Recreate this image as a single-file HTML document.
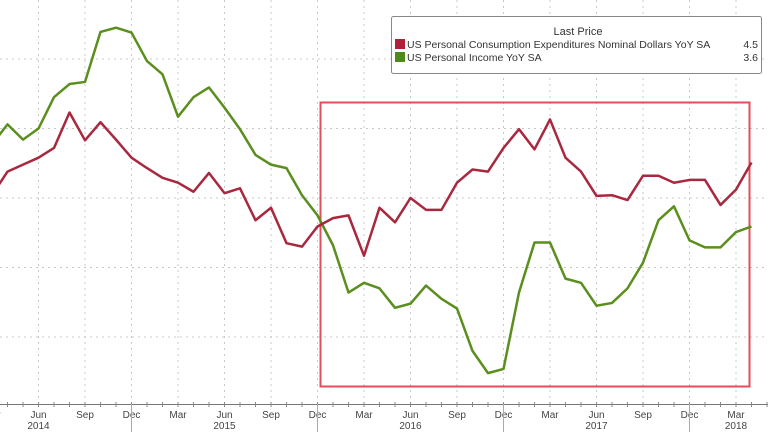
<!DOCTYPE html>
<html><head><meta charset="utf-8"><style>
html,body{margin:0;padding:0;background:#fff;}
svg{display:block;font-family:"Liberation Sans",sans-serif;}
</style></head><body>
<svg id="chart" width="768" height="432" viewBox="0 0 768 432" xmlns="http://www.w3.org/2000/svg">
<g id="grid"></g>
<g id="axis"></g>
<rect x="320.5" y="102.5" width="429" height="284" fill="none" stroke="#e0505a" stroke-width="2"/>
<g id="series"></g>
<g>
<rect x="391.5" y="16.5" width="370" height="57" fill="#fff" stroke="#888" stroke-width="1" rx="2"/>
<text x="578" y="35" font-size="11" fill="#333" text-anchor="middle">Last Price</text>
<rect x="395" y="39" width="10" height="10" fill="#b0203a"/>
<text x="407" y="48" font-size="10.5" fill="#333">US Personal Consumption Expenditures Nominal Dollars YoY SA</text>
<text x="758" y="48" font-size="10.5" fill="#333" text-anchor="end">4.5</text>
<rect x="395" y="52" width="10" height="10" fill="#4c8a1a"/>
<text x="407" y="61" font-size="10.5" fill="#333">US Personal Income YoY SA</text>
<text x="758" y="61" font-size="10.5" fill="#333" text-anchor="end">3.6</text>
</g>
</svg>
<script>
const pce=[4.04,4.38,4.48,4.58,4.72,5.23,4.83,5.09,4.84,4.58,4.43,4.29,4.22,4.09,4.36,4.07,4.14,3.68,3.86,3.35,3.30,3.59,3.71,3.75,3.17,3.86,3.65,4.0,3.83,3.83,4.22,4.41,4.38,4.72,4.99,4.70,5.13,4.58,4.38,4.03,4.04,3.97,4.32,4.32,4.22,4.26,4.26,3.90,4.12,4.51];
const income=[4.77,5.06,4.84,5.0,5.45,5.64,5.67,6.39,6.45,6.38,5.97,5.78,5.17,5.45,5.59,5.30,4.99,4.62,4.48,4.43,4.04,3.75,3.32,2.64,2.78,2.70,2.42,2.48,2.74,2.55,2.41,1.80,1.48,1.54,2.64,3.36,3.36,2.84,2.78,2.45,2.49,2.70,3.07,3.68,3.88,3.39,3.29,3.29,3.51,3.59];
const monthLabels=["Mar","Apr","May","Jun","Jul","Aug","Sep","Oct","Nov","Dec","Jan","Feb"];
const yTicks=[2,3,4,5,6];
const years=["2014","2015","2016","2017","2018"];
const NS="http://www.w3.org/2000/svg";
function x(i){return -8+i*15.5;}
function y(v){return 198-(v-4)*69.5;}
function mk(tag,attrs,parent,txt){const e=document.createElementNS(NS,tag);for(const k in attrs)e.setAttribute(k,attrs[k]);if(txt)e.textContent=txt;parent.appendChild(e);return e;}
const grid=document.getElementById('grid'),axis=document.getElementById('axis'),series=document.getElementById('series');
yTicks.forEach(t=>{const l=mk('line',{x1:0,x2:768,y1:y(t),y2:y(t),stroke:'#c8c8c8','stroke-dasharray':'2,4'},grid);

});
mk('line',{x1:0,x2:768,y1:404.5,y2:404.5,stroke:'#777'},axis);
for(let i=0;i<52;i++){const xi=x(i);const m=monthLabels[i%12];
const tk=mk('line',{x1:xi,x2:xi,y1:402,y2:407,stroke:'#888'},axis);


if(i%3===0){const g=mk('line',{x1:xi,x2:xi,y1:0,y2:404,stroke:'#c8c8c8','stroke-dasharray':'2,4'},grid);


const t=mk('text',{x:xi,y:418,'font-size':10,fill:'#444','text-anchor':'middle'},axis,m);

}
if(m==="Dec"){const s=mk('line',{x1:xi,x2:xi,y1:404,y2:432,stroke:'#aaa'},axis);

}
if(m==="Jun"){const yr=years[Math.floor(i/12)];const t=mk('text',{x:xi,y:429,'font-size':10,fill:'#444','text-anchor':'middle'},axis,yr);

}}
const t18=mk('text',{x:x(48),y:429,'font-size':10,fill:'#444','text-anchor':'middle'},axis,years[4]);


function line(arr,color,name){const p=mk('polyline',{points:arr.map((v,i)=>x(i)+','+y(v)).join(' '),fill:'none',stroke:color,'stroke-width':2.5,'stroke-linejoin':'round'},series);

}
line(income,'#5a8f1e','income-line');
line(pce,'#a8283f','pce-line');
</script>
</body></html>
